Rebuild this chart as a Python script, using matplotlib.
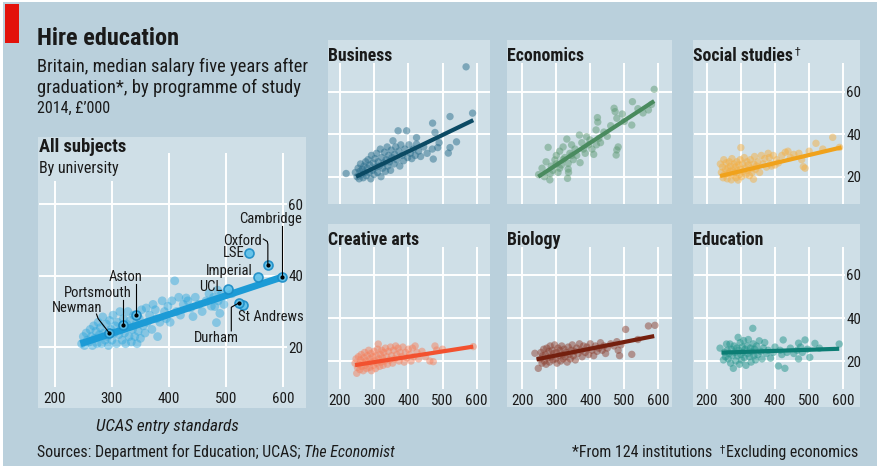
import matplotlib
matplotlib.use("Agg")
import matplotlib.pyplot as plt
from matplotlib.patches import Rectangle

W, H = 878, 469

# ---------------- data ----------------
ticks_x = [200, 300, 400, 500, 600]
ticks_y = [20, 40, 60]

# All subjects, by university (UCAS entry standard, median salary £'000)
all_x = [247, 250, 252, 255, 257, 260, 262, 264, 266, 268, 270, 272, 274, 276, 278, 280,
         282, 284, 286, 288, 290, 292, 294, 296, 298, 300, 302, 304, 306, 308, 310, 312,
         314, 316, 318, 320, 322, 324, 326, 328, 330, 332, 334, 336, 338, 340, 342, 344,
         346, 348, 350, 352, 355, 358, 360, 362, 366, 370, 372, 376, 378, 380, 384, 388,
         392, 395, 398, 402, 405, 410, 413, 417, 420, 425, 430, 433, 438, 442, 446, 452,
         458, 465, 470, 474, 478, 480, 483, 486, 489, 492, 496, 510, 485]
all_y = [21, 23, 20.5, 24, 22, 21.5, 25, 23, 20.5, 26, 22.5, 24.5, 21, 27, 23.5, 25.5,
         21, 28.5, 24, 22, 26.5, 23, 20.5, 27.5, 25, 22, 29, 24, 26, 21, 27, 23.5,
         30, 25, 22, 28, 24, 21, 26.5, 30, 23, 27.5, 21.5, 25, 29, 23, 26.5, 21,
         24.5, 28, 22.5, 30.5, 26, 24, 31, 27, 29, 25, 32, 30.5, 28, 23, 27, 33,
         30, 28, 31.5, 27, 33, 38.6, 30, 34, 29, 32, 33.8, 33, 31, 28.6, 34, 32,
         30, 33, 35, 31.5, 34, 31.4, 26.9, 33, 29.5, 35, 32, 35, 36]
all_trend_x = [245, 597]
all_trend_y = [21, 39.6]

named = ["Cambridge", "Oxford", "LSE", "Imperial", "UCL", "St Andrews", "Durham",
         "Aston", "Portsmouth", "Newman"]
named_x = [597, 573, 540, 555, 503, 530, 522, 343, 320, 295]
named_y = [39.8, 43, 46.5, 39.7, 36.2, 31.7, 32.4, 29.1, 26.3, 24.1]

business_x = [218, 245, 250, 253, 256, 258, 260, 262, 265, 268, 270, 272, 275, 277, 280, 282,
              285, 287, 290, 292, 295, 297, 300, 302, 305, 307, 310, 312, 315, 318, 320, 322,
              325, 328, 330, 333, 335, 338, 340, 342, 345, 348, 350, 352, 355, 358, 360, 363,
              366, 370, 372, 375, 378, 382, 386, 390, 395, 398, 402, 406, 410, 415, 420, 424,
              424, 430, 436, 445, 455, 470, 471, 473, 478, 486, 490, 517, 522, 522, 541, 569, 588]
business_y = [21.5, 22, 20, 24, 19, 22.5, 26, 21, 23.5, 19.5, 25, 22, 27, 20.5, 24, 28,
              22, 25.5, 19, 30, 23, 26.5, 21, 28.5, 24.5, 31, 22, 27, 25, 33, 20, 29,
              24, 26.5, 31.5, 22.5, 28, 34, 25, 30, 27, 23, 32.5, 29, 36.9, 26, 30.5, 34,
              28, 41.6, 32, 25, 35, 30, 27.5, 33, 41.6, 29, 35, 31, 28.5, 33, 30, 38.4,
              35.3, 32, 29.5, 34, 31, 33, 45.2, 28.3, 40.8, 33.7, 36, 31.1, 33.7, 48.3, 36.4, 71.7, 49.9]
business_trend_x = [247, 590]
business_trend_y = [20, 46.6]

economics_x = [248, 258, 265, 270, 276, 281, 282, 285, 290, 296, 300, 305, 310, 315, 320, 325,
               331, 333, 335, 335, 336, 340, 345, 350, 355, 360, 368, 370, 375, 380, 385, 389,
               395, 399, 405, 410, 417, 418, 421, 422, 425, 430, 440, 450, 460, 470, 473, 476,
               478, 478, 482, 494, 500, 522, 524, 540, 555, 571, 588, 580, 300, 320, 345, 310]
economics_y = [21, 24, 20, 27, 33.8, 18.5, 21.4, 25, 23, 27.9, 30, 22, 32, 25.5, 34, 29,
               37.7, 19.2, 26.3, 23.6, 22, 31, 35, 28, 33, 30, 39.6, 26.6, 36, 33, 31, 38.8,
               35, 37.3, 33, 30.5, 42, 35, 47.8, 45.7, 38, 36, 41, 39, 44, 52.2, 50.6, 30.2,
               32.6, 47.5, 34, 49.5, 46, 44.3, 55.3, 52, 50, 51.4, 61.1, 54, 26, 28, 30, 24]
economics_trend_x = [247, 588]
economics_trend_y = [20, 55.6]

social_x = [240, 243, 246, 248, 250, 252, 255, 257, 260, 262, 264, 266, 268, 270, 272, 274,
            276, 278, 280, 282, 284, 286, 288, 290, 292, 294, 296, 298, 300, 300, 302, 305,
            307, 310, 312, 315, 318, 320, 322, 325, 328, 330, 333, 337, 338, 340, 343, 346,
            350, 355, 360, 365, 370, 375, 380, 383, 386, 390, 395, 400, 405, 410, 420, 430,
            438, 445, 455, 470, 478, 483, 488, 500, 520, 540, 569, 589]
social_y = [26, 22, 24.5, 19.5, 28, 21, 23.5, 26.5, 19, 24, 21.5, 27, 22.5, 25, 18.5, 28.5,
            23, 20.8, 26, 22, 24.5, 19.5, 27, 23, 18.4, 25.5, 21, 28, 33.7, 23.5, 20, 26,
            22.5, 29, 24, 21, 27, 23, 25.5, 20.5, 28, 24, 22, 18.8, 26, 29.5, 23.5, 25,
            27, 22, 30, 26, 28.5, 24.5, 31, 29, 26, 25, 30, 25.5, 28, 26.5, 30, 31.5,
            32, 29, 30.5, 31, 28, 24.7, 24, 32, 35.7, 33, 38.5, 33.8]
social_trend_x = [239, 595]
social_trend_y = [20.3, 33.8]

creative_x = [244, 247, 249, 251, 254, 256, 258, 260, 262, 264, 266, 268, 270, 272, 274, 276,
              278, 280, 282, 284, 286, 288, 290, 292, 294, 296, 298, 300, 302, 304, 306, 308,
              310, 312, 314, 316, 318, 320, 322, 324, 326, 328, 330, 333, 336, 339, 342, 345,
              348, 351, 354, 357, 360, 363, 366, 370, 373, 376, 380, 384, 388, 392, 396, 400,
              404, 408, 412, 416, 420, 425, 430, 440, 450, 463, 473, 478, 483, 500, 590]
creative_y = [19, 21, 14.3, 17, 22, 18.5, 16, 20.5, 23, 17.5, 19.5, 15.5, 21.5, 24, 18, 20,
              16.5, 22.5, 19, 25, 17, 21, 23.5, 15.5, 19.5, 22, 18, 24.5, 20, 16.5, 22.5, 19,
              25.5, 27.9, 21, 17.5, 23, 19.5, 25, 21.5, 18, 24, 20, 26, 22, 18.5, 24.5, 20.5,
              26.5, 22.5, 19, 25, 21, 27, 23, 26, 20, 24, 22, 26.5, 19.5, 24, 21.5, 25.5,
              23, 20, 26, 22, 27, 24, 21, 24.5, 22, 20, 19.7, 27, 25.1, 25.5, 26.7]
creative_trend_x = [244, 590]
creative_trend_y = [18.1, 26.7]

biology_x = [237, 247, 252, 255, 258, 260, 263, 265, 268, 270, 272, 275, 278, 280, 282, 285,
             288, 290, 292, 295, 298, 300, 302, 305, 308, 310, 313, 316, 318, 320, 323, 326,
             329, 332, 335, 338, 341, 344, 347, 350, 353, 356, 360, 364, 368, 372, 376, 380,
             385, 390, 395, 400, 405, 410, 415, 420, 425, 430, 435, 440, 445, 450, 460, 470,
             478, 482, 486, 490, 504, 522, 540, 571, 590]
biology_y = [23.6, 16.6, 21, 24, 19, 22.5, 25.5, 20, 23, 18.5, 26, 21.5, 24.5, 19.5, 27, 22,
             25, 20.5, 23.5, 27.5, 21, 24, 19, 26, 22.5, 25, 20, 27, 23, 21, 25.5, 22,
             24, 19.5, 26.5, 23, 21, 25, 27.5, 22.5, 24.5, 20.5, 26, 23.5, 28, 25, 22, 27,
             24, 26.5, 23, 28, 25, 22.5, 27, 24.5, 26, 28.5, 25, 27, 23.5, 26, 28, 27,
             29, 25, 22.5, 27.5, 34.7, 23.1, 30, 36.3, 36.6]
biology_trend_x = [242, 588]
biology_trend_y = [20.8, 31.6]

education_x = [239, 249, 252, 255, 258, 260, 263, 265, 268, 270, 272, 275, 278, 280, 282, 285,
               288, 290, 292, 294, 296, 298, 300, 302, 304, 306, 308, 310, 312, 315, 318, 320,
               322, 325, 328, 330, 332, 335, 336, 338, 340, 343, 346, 350, 354, 358, 362, 366,
               370, 375, 380, 387, 395, 400, 410, 415, 420, 424, 429, 435, 445, 455, 465, 469,
               469, 475, 480, 488, 495, 502, 517, 530, 588]
education_y = [26, 20.5, 24, 22, 27.9, 25, 21, 23.5, 27.9, 19, 25.5, 22.5, 16.6, 27, 24, 20,
               26, 22.5, 31, 25, 18.5, 28.5, 23, 20.5, 26.5, 24, 29.5, 21.5, 25.5, 18, 27, 23.5,
               30, 22, 26, 19.5, 24.5, 35.2, 28, 22.5, 25.5, 20.5, 27, 23, 29.4, 24.5, 21, 26,
               28.6, 23.5, 25, 21.3, 24, 26.5, 17.7, 25, 23, 29.8, 16.6, 24, 26, 23.5, 25, 21,
               28.3, 26.5, 24, 29.8, 25.5, 21.7, 28.2, 26, 27.9]
education_trend_x = [244, 588]
education_trend_y = [23.9, 25.7]

subjects = ["Business", "Economics", "Social studies", "Creative arts", "Biology", "Education"]
subject_x = [business_x, economics_x, social_x, creative_x, biology_x, education_x]
subject_y = [business_y, economics_y, social_y, creative_y, biology_y, education_y]
trend_x = [business_trend_x, economics_trend_x, social_trend_x,
           creative_trend_x, biology_trend_x, education_trend_x]
trend_y = [business_trend_y, economics_trend_y, social_trend_y,
           creative_trend_y, biology_trend_y, education_trend_y]
dot_colors = ["#2b6e8c", "#5f9a74", "#f3b046", "#f5825f", "#8e4536", "#23948b"]
line_colors = ["#0b4a64", "#4a8b5f", "#f0a21c", "#f2512f", "#74200f", "#0c7d74"]

# ---------------- style ----------------
OUTER = "#bad0dc"
PANEL = "#cfdfe7"
INK = "#1a1a1a"
FONT = ["Roboto Condensed", "Roboto", "DejaVu Sans"]
plt.rcParams["font.family"] = FONT

fig = plt.figure(figsize=(W / 100, H / 100), dpi=100, facecolor="white")


def rect(l, t, r, b, color, z=-5):
    fig.patches.append(Rectangle((l / W, 1 - b / H), (r - l) / W, (b - t) / H,
                                 transform=fig.transFigure, facecolor=color,
                                 edgecolor="none", zorder=z))


def px_axes(l, t, r, b):
    return fig.add_axes([l / W, 1 - b / H, (r - l) / W, (b - t) / H])


def style(ax, xlim, ylim, xlabels, ylabels, size):
    ax.set_xlim(xlim)
    ax.set_ylim(ylim)
    ax.set_facecolor(PANEL)
    for s in ax.spines.values():
        s.set_visible(False)
    ax.set_xticks(ticks_x)
    ax.set_yticks(ticks_y)
    ax.grid(True, color="white", lw=1.4)
    ax.set_axisbelow(True)
    ax.tick_params(length=0, labelsize=size, labelcolor=INK)
    ax.tick_params(axis="x", labelbottom=xlabels, pad=3.5)
    ax.tick_params(axis="y", left=False, labelleft=False, right=False,
                   labelright=ylabels, pad=1)


def ftext(x, y, s, **kw):
    kw.setdefault("color", INK)
    kw.setdefault("va", "baseline")
    return fig.text(x / W, 1 - y / H, s, **kw)


# backgrounds
rect(3, 2, W, 466, OUTER, -6)
rect(5, 4, 19, 43, "#e3120b", -4)
rect(38, 137, 306, 408, PANEL)

# headings
ftext(37, 45, "Hire education", fontsize=17.5, fontweight="bold")
ftext(37, 72, "Britain, median salary five years after", fontsize=13.3)
ftext(37, 93, "graduation*, by programme of study", fontsize=13.3)
ftext(37, 113, "2014, £’000", fontsize=11.5)

# ---- all subjects ----
ax = px_axes(39, 153, 287, 387)
style(ax, (172.4, 606.5), (8.9, 74.35), True, True, 10.8)
ax.scatter(all_x, all_y, s=40, color="#2ea6dc", alpha=0.45, edgecolor="none", zorder=2)
ax.plot(all_trend_x, all_trend_y, color="#1c9bd6", lw=5, solid_capstyle="butt", zorder=3)
ax.scatter(named_x, named_y, s=42, color="#5cc0ea", alpha=0.9,
           edgecolor="#1a8cc6", linewidth=1.2, zorder=4)
leader = ["Cambridge", "Oxford", "Durham", "Aston", "Portsmouth", "Newman"]
for n, x, y in zip(named, named_x, named_y):
    if n in leader:
        ax.scatter([x], [y], s=4, color="black", zorder=5)

lab = dict(fontsize=10.5, color=INK, zorder=6)
ax.text(577, 55.8, "Cambridge", ha="center", va="center", **lab)
ax.plot([597, 597], [54.0, 39.8], color="black", lw=0.8, zorder=5)
ax.text(528, 49.8, "Oxford", ha="center", va="center", **lab)
ax.plot([565, 572, 573, 573], [50.3, 49.6, 48.8, 43], color="black", lw=0.8, zorder=5)
ax.text(532, 46.3, "LSE", ha="right", va="center", **lab)
ax.text(546, 41.3, "Imperial", ha="right", va="center", **lab)
ax.text(493, 37.0, "UCL", ha="right", va="center", **lab)
ax.text(521, 28.4, "St Andrews", ha="left", va="center", **lab)
ax.text(483, 22.7, "Durham", ha="center", va="center", **lab)
ax.plot([509, 509, 522], [24.6, 31.2, 32.4], color="black", lw=0.8, zorder=5)
ax.text(324, 39.6, "Aston", ha="center", va="center", **lab)
ax.plot([343, 343], [37.8, 29.1], color="black", lw=0.8, zorder=5)
ax.text(276, 35.3, "Portsmouth", ha="center", va="center", **lab)
ax.plot([320, 320], [33.3, 26.3], color="black", lw=0.8, zorder=5)
ax.text(240, 30.9, "Newman", ha="center", va="center", **lab)
ax.plot([273, 276, 295], [29.3, 28.0, 24.1], color="black", lw=0.8, zorder=5)

rect(38, 137, 127, 181, PANEL, 1)
ftext(39, 152, "All subjects", fontsize=13.3, fontweight="bold")
ftext(39, 173, "By university", fontsize=11.5)

# ---- small multiples ----
cols = [(328, 490, (164.9, 639)), (507, 672, (155, 640.3)), (694, 845, (162.8, 605))]
col_bg = [(328, 490), (507, 672), (693, 860)]
rows = [(40, 204, 63, 204, (7.15, 73.5), 61), (224, 407, 247, 389, (7.0, 73.0), 245)]

for i, name in enumerate(subjects):
    r, c = divmod(i, 3)
    bg_t, bg_b, ax_t, ax_b, ylim, base = rows[r]
    l, rr, xlim = cols[c]
    rect(col_bg[c][0], bg_t, col_bg[c][1], bg_b, PANEL)
    ax = px_axes(l, ax_t, rr, ax_b)
    style(ax, xlim, ylim, r == 1, c == 2, 10.8)
    ax.scatter(subject_x[i], subject_y[i], s=28, color=dot_colors[i], alpha=0.5,
               edgecolor="none", zorder=2)
    ax.plot(trend_x[i], trend_y[i], color=line_colors[i], lw=3, solid_capstyle="butt", zorder=3)
    t = ftext(col_bg[c][0] + 0.5, base, name, fontsize=12.8, fontweight="bold")
    if name == "Social studies":
        fig.canvas.draw()
        bb = t.get_window_extent()
        fig.text(bb.x1 / W + 0.001, 1 - (base - 7) / H, "†", fontsize=8, color=INK,
                 va="baseline", family=["DejaVu Sans"])

# ---- footer ----
ftext(167, 431, "UCAS entry standards", fontsize=12.3, style="italic", ha="center")
s1 = ftext(37, 457, "Sources: Department for Education; UCAS; ", fontsize=11.4)
fig.canvas.draw()
bb = s1.get_window_extent()
fig.text(bb.x1 / W, 1 - 457 / H, "The Economist", fontsize=11.4, style="italic",
         color=INK, va="baseline")
ftext(858, 457, "Excluding economics", fontsize=11.4, ha="right")
ftext(712, 457, "*From 124 institutions", fontsize=11.4, ha="right")
fig.canvas.draw()
ex = fig.texts[-2].get_window_extent()
fig.text(ex.x0 / W - 0.007, 1 - 452 / H, "†", fontsize=7.5, color=INK, va="baseline",
         family=["DejaVu Sans"])

fig.savefig("out.png", dpi=100, facecolor="white")
